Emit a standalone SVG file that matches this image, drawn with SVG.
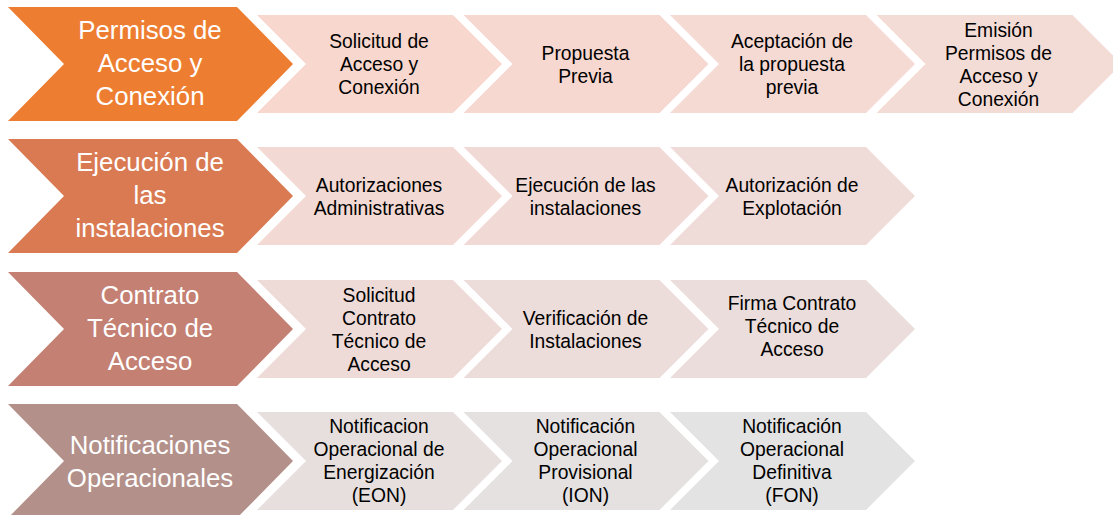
<svg xmlns="http://www.w3.org/2000/svg" width="1113" height="515" viewBox="0 0 1113 515">
<defs>
<style>
.big{font-family:"Liberation Sans",Arial,sans-serif;font-size:25.8px;fill:#ffffff;text-anchor:middle}
.sm{font-family:"Liberation Sans",Arial,sans-serif;font-size:19.3px;fill:#000000;text-anchor:middle}
</style>
<path id="bigc" d="M0,0 H229 L285,57 L229,114 H0 L56,57 Z"/>
<path id="smc" d="M0,0 H196 L245,49 L196,98 H0 L49,49 Z"/>
</defs>
<rect width="1113" height="515" fill="#ffffff"/>
<g id="connectors"></g>

<!-- Row 1 -->
<g id="row1-head"><use href="#bigc" x="8" y="7" fill="#ED7D31"/>
<text class="big" x="150" y="38.5">Permisos de</text><text class="big" x="150" y="71.5">Acceso y</text><text class="big" x="150" y="104.5">Conexión</text></g>
<g id="row1-s1"><use href="#smc" x="257" y="15" fill="#F8D7CE"/>
<text class="sm" x="379" y="48">Solicitud de</text><text class="sm" x="379" y="71">Acceso y</text><text class="sm" x="379" y="94">Conexión</text></g>
<g id="row1-s2"><use href="#smc" x="463.5" y="15" fill="#F7D8D0"/>
<text class="sm" x="585.5" y="59.5">Propuesta</text><text class="sm" x="585.5" y="82.5">Previa</text></g>
<g id="row1-s3"><use href="#smc" x="670" y="15" fill="#F5D9D3"/>
<text class="sm" x="792" y="48">Aceptación de</text><text class="sm" x="792" y="71">la propuesta</text><text class="sm" x="792" y="94">previa</text></g>
<g id="row1-s4"><use href="#smc" x="876.5" y="15" fill="#F3DBD6"/>
<text class="sm" x="998.5" y="36.5">Emisión</text><text class="sm" x="998.5" y="59.5">Permisos de</text><text class="sm" x="998.5" y="82.5">Acceso y</text><text class="sm" x="998.5" y="105.5">Conexión</text></g>

<!-- Row 2 -->
<g id="row2-head"><use href="#bigc" x="8" y="139" fill="#D97A52"/>
<text class="big" x="150" y="171">Ejecución de</text><text class="big" x="150" y="204">las</text><text class="big" x="150" y="237">instalaciones</text></g>
<g id="row2-s1"><use href="#smc" x="257" y="147" fill="#F3D9D3"/>
<text class="sm" x="379" y="191.5">Autorizaciones</text><text class="sm" x="379" y="214.5">Administrativas</text></g>
<g id="row2-s2"><use href="#smc" x="463.5" y="147" fill="#F1DAD6"/>
<text class="sm" x="585.5" y="191.5">Ejecución de las</text><text class="sm" x="585.5" y="214.5">instalaciones</text></g>
<g id="row2-s3"><use href="#smc" x="670" y="147" fill="#EFDBD8"/>
<text class="sm" x="792" y="191.5">Autorización de</text><text class="sm" x="792" y="214.5">Explotación</text></g>

<!-- Row 3 -->
<g id="row3-head"><use href="#bigc" x="8" y="272" fill="#C48072"/>
<text class="big" x="150" y="304">Contrato</text><text class="big" x="150" y="337">Técnico de</text><text class="big" x="150" y="370">Acceso</text></g>
<g id="row3-s1"><use href="#smc" x="257" y="280" fill="#EEDBD8"/>
<text class="sm" x="379" y="301.5">Solicitud</text><text class="sm" x="379" y="324.5">Contrato</text><text class="sm" x="379" y="347.5">Técnico de</text><text class="sm" x="379" y="370.5">Acceso</text></g>
<g id="row3-s2"><use href="#smc" x="463.5" y="280" fill="#ECDCDA"/>
<text class="sm" x="585.5" y="324.5">Verificación de</text><text class="sm" x="585.5" y="347.5">Instalaciones</text></g>
<g id="row3-s3"><use href="#smc" x="670" y="280" fill="#EADDDB"/>
<text class="sm" x="792" y="310">Firma Contrato</text><text class="sm" x="792" y="333">Técnico de</text><text class="sm" x="792" y="356">Acceso</text></g>

<!-- Row 4 -->
<g id="row4-head"><use href="#bigc" x="8" y="404" fill="#B3908A"/>
<text class="big" x="150" y="454">Notificaciones</text><text class="big" x="150" y="487">Operacionales</text></g>
<g id="row4-s1"><use href="#smc" x="257" y="412" fill="#E7DFDD"/>
<text class="sm" x="379" y="432.5">Notificacion</text><text class="sm" x="379" y="455.5">Operacional de</text><text class="sm" x="379" y="478.5">Energización</text><text class="sm" x="379" y="501.5">(EON)</text></g>
<g id="row4-s2"><use href="#smc" x="463.5" y="412" fill="#E4E1E0"/>
<text class="sm" x="585.5" y="432.5">Notificación</text><text class="sm" x="585.5" y="455.5">Operacional</text><text class="sm" x="585.5" y="478.5">Provisional</text><text class="sm" x="585.5" y="501.5">(ION)</text></g>
<g id="row4-s3"><use href="#smc" x="670" y="412" fill="#E3E3E3"/>
<text class="sm" x="792" y="432.5">Notificación</text><text class="sm" x="792" y="455.5">Operacional</text><text class="sm" x="792" y="478.5">Definitiva</text><text class="sm" x="792" y="501.5">(FON)</text></g>
</svg>
